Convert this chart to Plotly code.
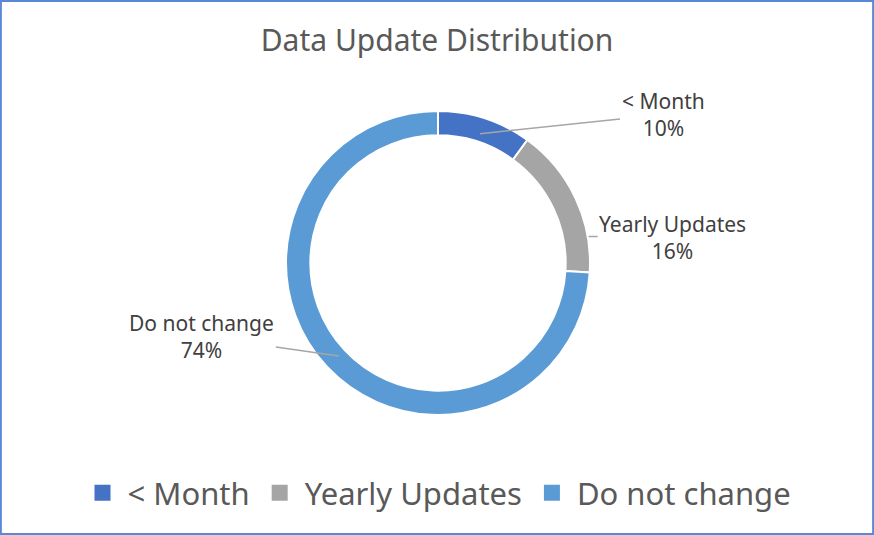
import math
import plotly.graph_objects as go

labels = ["< Month", "Yearly Updates", "Do not change"]
values = [10, 16, 74]
colors = ["#4472C4", "#A5A5A5", "#5B9BD5"]

W, H = 874, 535
cx, cy, R = 438, 263, 152  # donut centre / outer radius in pixels

fig = go.Figure()
fig.add_trace(go.Pie(
    labels=labels, values=values, hole=0.84, sort=False,
    direction="clockwise", rotation=0,
    marker=dict(colors=colors, line=dict(color="white", width=2)),
    textinfo="none", hoverinfo="label+percent", showlegend=False,
    domain=dict(x=[(cx - R) / W, (cx + R) / W],
                y=[1 - (cy + R) / H, 1 - (cy - R) / H]),
))

# legend entries with bigger square swatches (Excel style)
for lab, c in zip(labels, colors):
    fig.add_trace(go.Scatter(x=[None], y=[None], mode="markers", name=lab,
                             marker=dict(symbol="square", size=16, color=c)))

# data labels with leader lines
total = sum(values)
label_offsets = [(183, -19), (84, 1), (-137, -20)]
tip_override = {1: (80, 153)}  # angle, radius for the short horizontal leader
start = 0
for i, (lab, v) in enumerate(zip(labels, values)):
    mid = (start + v / 2) / total * 360
    start += v
    ang, r = tip_override.get(i, (mid, 136))
    tx = cx + r * math.sin(math.radians(ang))
    ty = cy - r * math.cos(math.radians(ang))
    ax, ay = label_offsets[i]
    fig.add_annotation(
        x=tx / W, y=1 - ty / H, xref="paper", yref="paper",
        text=f"{lab}<br>{round(v / total * 100)}%",
        showarrow=True, arrowhead=0, arrowwidth=1.5, arrowcolor="#A6A6A6",
        ax=ax, ay=ay, align="center",
        font=dict(size=21, color="#404040", family="Noto Sans"),
    )

# chart border
fig.add_shape(type="rect", xref="paper", yref="paper", x0=0.001, y0=0.002, x1=0.999, y1=0.998,
              line=dict(color="#5B87D6", width=2))

fig.update_xaxes(visible=False)
fig.update_yaxes(visible=False)
fig.update_layout(
    width=W, height=H,
    margin=dict(l=0, r=0, t=0, b=0),
    paper_bgcolor="white", plot_bgcolor="white",
    font=dict(family="Noto Sans", color="#595959"),
    title=dict(text="Data Update Distribution", x=0.5, xanchor="center",
               y=1 - 40 / H, yanchor="middle", font=dict(size=30, color="#595959")),
    showlegend=True,
    legend=dict(orientation="h", x=0.5, xanchor="center", y=1 - 493 / H, yanchor="middle",
                font=dict(size=31, color="#595959"), itemclick=False, itemwidth=40),
)

fig.write_html("out.html", config={"displayModeBar": False},
               post_script="document.body.style.margin='0';")
